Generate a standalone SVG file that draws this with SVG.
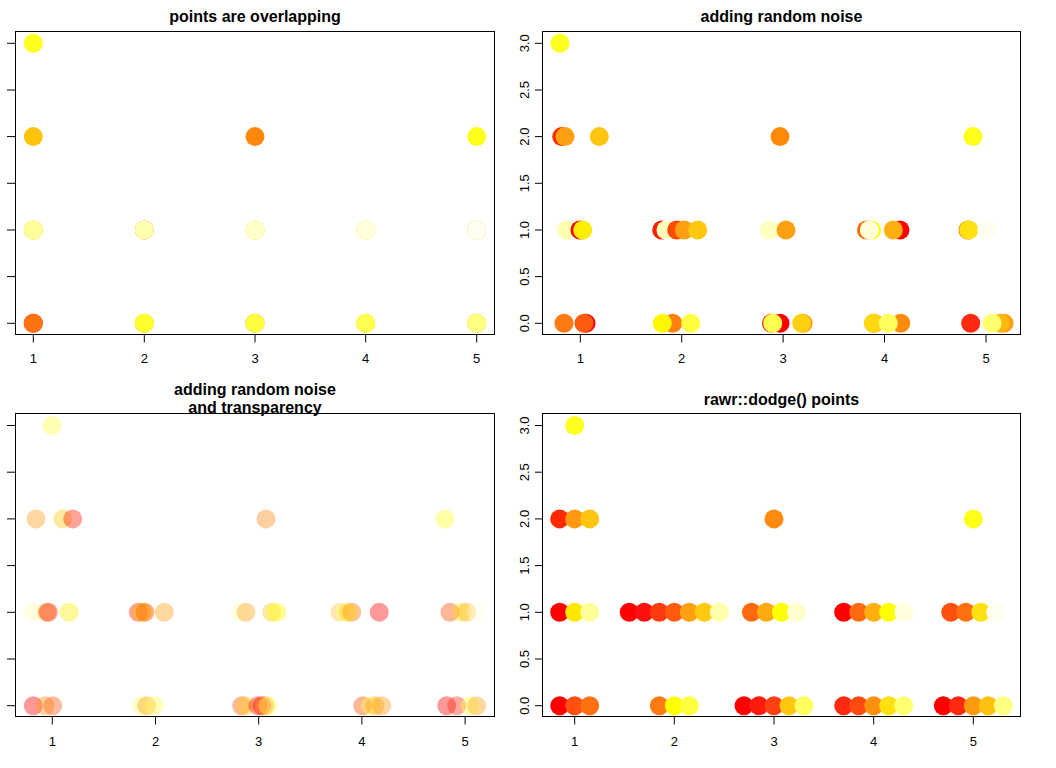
<svg xmlns="http://www.w3.org/2000/svg" width="1056" height="768" viewBox="0 0 1056 768">
<style>
.title{font-family:"Liberation Sans",Arial,sans-serif;font-weight:bold;font-size:16px;text-anchor:middle;fill:#000}
.tl{font-family:"Liberation Sans",Arial,sans-serif;font-size:13px;text-anchor:middle;fill:#000}
.box{fill:none;stroke:#000;stroke-width:1}
.tick{fill:none;stroke:#000;stroke-width:1}
.t{fill-opacity:0.4}
</style>
<rect width="1056" height="768" fill="#fff"/>

<!-- Panel 1 -->
<g id="panel1">
<text class="title" x="255" y="22">points are overlapping</text>
<rect class="box" x="15.5" y="31.5" width="479" height="303"/>
<path class="tick" d="M7,323.3H16M7,276.6H16M7,230H16M7,183.3H16M7,136.6H16M7,90H16M7,43.3H16M33.3,334.5V342.5M144.3,334.5V342.5M255,334.5V342.5M365.7,334.5V342.5M476.7,334.5V342.5"/>
<text class="tl" x="33.3" y="363">1</text><text class="tl" x="144.3" y="363">2</text><text class="tl" x="255" y="363">3</text><text class="tl" x="365.7" y="363">4</text><text class="tl" x="476.7" y="363">5</text>
<g id="p1pts">
<circle cx="33.3" cy="43.3" r="9.5" fill="#FFFF20"/>
<circle cx="33.3" cy="136.6" r="9.5" fill="#FFC40A"/>
<circle cx="255" cy="136.6" r="9.5" fill="#FF880A"/>
<circle cx="476.7" cy="136.6" r="9.5" fill="#FFFF1A"/>
<circle cx="33.3" cy="230" r="9.5" fill="#FFA000"/><circle cx="33.3" cy="230" r="9.5" fill="#FFFF99"/>
<circle cx="144.3" cy="230" r="9.5" fill="#FF6000"/><circle cx="144.3" cy="230" r="9.5" fill="#FFFFB0"/>
<circle cx="255" cy="230" r="9.5" fill="#FFC000"/><circle cx="255" cy="230" r="9.5" fill="#FFFFC8"/>
<circle cx="365.7" cy="230" r="9.5" fill="#FFD000"/><circle cx="365.7" cy="230" r="9.5" fill="#FFFFDC"/>
<circle cx="476.7" cy="230" r="9.5" fill="#FFB000"/><circle cx="476.7" cy="230" r="9.5" fill="#FFFFF2"/>
<circle cx="33.3" cy="323.3" r="9.5" fill="#FF2000"/><circle cx="33.3" cy="323.3" r="9.5" fill="#FF7410"/>
<circle cx="144.3" cy="323.3" r="9.5" fill="#FFA000"/><circle cx="144.3" cy="323.3" r="9.5" fill="#FFFF30"/>
<circle cx="255" cy="323.3" r="9.5" fill="#FF8000"/><circle cx="255" cy="323.3" r="9.5" fill="#FFFF40"/>
<circle cx="365.7" cy="323.3" r="9.5" fill="#FFC000"/><circle cx="365.7" cy="323.3" r="9.5" fill="#FFFF50"/>
<circle cx="476.7" cy="323.3" r="9.5" fill="#FF9000"/><circle cx="476.7" cy="323.3" r="9.5" fill="#FFFF80"/>
</g>
</g>

<!-- Panel 2 -->
<g id="panel2">
<text class="title" x="781.5" y="22">adding random noise</text>
<rect class="box" x="542.5" y="31.5" width="478" height="303"/>
<path class="tick" d="M535,323.3H542.5M535,276.6H542.5M535,230H542.5M535,183.3H542.5M535,136.6H542.5M535,90H542.5M535,43.3H542.5M580.3,334.5V342.5M681.7,334.5V342.5M783.1,334.5V342.5M884.5,334.5V342.5M986,334.5V342.5"/>
<text class="tl" x="580.3" y="363">1</text><text class="tl" x="681.7" y="363">2</text><text class="tl" x="783.1" y="363">3</text><text class="tl" x="884.5" y="363">4</text><text class="tl" x="986" y="363">5</text>
<text class="tl" transform="translate(529,323.3) rotate(-90)">0.0</text>
<text class="tl" transform="translate(529,276.6) rotate(-90)">0.5</text>
<text class="tl" transform="translate(529,230) rotate(-90)">1.0</text>
<text class="tl" transform="translate(529,183.3) rotate(-90)">1.5</text>
<text class="tl" transform="translate(529,136.6) rotate(-90)">2.0</text>
<text class="tl" transform="translate(529,90) rotate(-90)">2.5</text>
<text class="tl" transform="translate(529,43.3) rotate(-90)">3.0</text>
<g id="p2pts">
<circle cx="560" cy="43.3" r="9.5" fill="#FFFF20"/>
<circle cx="561.7" cy="136.6" r="9.5" fill="#FF2A00"/><circle cx="565" cy="136.6" r="9.5" fill="#FFA010"/>
<circle cx="599.3" cy="136.6" r="9.5" fill="#FFC510"/>
<circle cx="780" cy="136.6" r="9.5" fill="#FF8A0A"/>
<circle cx="973" cy="136.6" r="9.5" fill="#FFFF1A"/>
<circle cx="566.7" cy="230" r="9.5" fill="#FFFFB0"/>
<circle cx="580" cy="230" r="9.5" fill="#FF0000"/><circle cx="582.7" cy="230" r="9.5" fill="#FFEE00"/>
<circle cx="661.7" cy="230" r="9.5" fill="#FF2000"/><circle cx="666" cy="230" r="9.5" fill="#FFFFC0"/>
<circle cx="676.7" cy="230" r="9.5" fill="#FF4A00"/><circle cx="684.3" cy="230" r="9.5" fill="#FFA010"/>
<circle cx="697.7" cy="230" r="9.5" fill="#FFC810"/>
<circle cx="769.3" cy="230" r="9.5" fill="#FFFFC0"/>
<circle cx="786" cy="230" r="9.5" fill="#FFA010"/>
<circle cx="866.5" cy="230" r="9.5" fill="#FF6A00"/><circle cx="871.5" cy="230" r="9.5" fill="#FFFF00"/><circle cx="869.3" cy="230" r="9.5" fill="#FFFFD8"/>
<circle cx="900" cy="230" r="9.5" fill="#FF0000"/><circle cx="893.3" cy="230" r="9.5" fill="#FFB010"/>
<circle cx="968" cy="230" r="9.5" fill="#FF6A00"/><circle cx="968.7" cy="230" r="9.5" fill="#FFE010"/>
<circle cx="986.7" cy="230" r="9.5" fill="#FFFFF0"/>
<circle cx="564" cy="323.3" r="9.5" fill="#FF7A10"/>
<circle cx="586" cy="323.3" r="9.5" fill="#FF0000"/><circle cx="584" cy="323.3" r="9.5" fill="#FF5A10"/>
<circle cx="672.7" cy="323.3" r="9.5" fill="#FF8010"/><circle cx="662.3" cy="323.3" r="9.5" fill="#FFF800"/>
<circle cx="690.7" cy="323.3" r="9.5" fill="#FFFF40"/>
<circle cx="780" cy="323.3" r="9.5" fill="#FF0000"/><circle cx="771.5" cy="323.3" r="9.5" fill="#FF2000"/><circle cx="772.7" cy="323.3" r="9.5" fill="#FFFF50"/>
<circle cx="803" cy="323.3" r="9.5" fill="#FF9000"/><circle cx="801.7" cy="323.3" r="9.5" fill="#FFD010"/>
<circle cx="900.7" cy="323.3" r="9.5" fill="#FF8A10"/>
<circle cx="874" cy="323.3" r="9.5" fill="#FF8000"/><circle cx="873.3" cy="323.3" r="9.5" fill="#FFD810"/>
<circle cx="888.3" cy="323.3" r="9.5" fill="#FFFF60"/>
<circle cx="970.7" cy="323.3" r="9.5" fill="#FF2A10"/>
<circle cx="1004" cy="323.3" r="9.5" fill="#FFA010"/><circle cx="1000" cy="323.3" r="9.5" fill="#FFB810"/>
<circle cx="992" cy="323.3" r="9.5" fill="#FFFF70"/>
</g>
</g>

<!-- Panel 3 -->
<g id="panel3">
<text class="title" x="255" y="395">adding random noise</text>
<text class="title" x="255" y="413">and transparency</text>
<rect class="box" x="15.5" y="413.5" width="479" height="303"/>
<path class="tick" d="M7,705.7H16M7,659H16M7,612.3H16M7,565.6H16M7,518.9H16M7,472.2H16M7,425.5H16M52.3,716.5V724.5M155.5,716.5V724.5M258.7,716.5V724.5M361.9,716.5V724.5M465.1,716.5V724.5"/>
<text class="tl" x="52.3" y="746">1</text><text class="tl" x="155.5" y="746">2</text><text class="tl" x="258.7" y="746">3</text><text class="tl" x="361.9" y="746">4</text><text class="tl" x="465.1" y="746">5</text>
<g id="p3pts" class="t">
<circle cx="52" cy="425.5" r="9.5" fill="#FFFF40"/>
<circle cx="36" cy="518.9" r="9.5" fill="#FF9A10"/>
<circle cx="62.7" cy="518.9" r="9.5" fill="#FFC510"/>
<circle cx="72.7" cy="518.9" r="9.5" fill="#FF1A00"/>
<circle cx="266" cy="518.9" r="9.5" fill="#FF8A10"/>
<circle cx="445" cy="518.9" r="9.5" fill="#FFFF20"/>
<circle cx="33.3" cy="612.3" r="9.5" fill="#FFFFB0"/>
<circle cx="46.7" cy="612.3" r="9.5" fill="#FF9A10"/>
<circle cx="48.3" cy="612.3" r="9.5" fill="#FF1A00"/>
<circle cx="69" cy="612.3" r="9.5" fill="#FFEE00"/>
<circle cx="138.3" cy="612.3" r="9.5" fill="#FF2000"/>
<circle cx="141.7" cy="612.3" r="9.5" fill="#FFA010"/>
<circle cx="143.5" cy="612.3" r="9.5" fill="#FFE010"/>
<circle cx="145" cy="612.3" r="9.5" fill="#FF4A00"/>
<circle cx="164.3" cy="612.3" r="9.5" fill="#FFA010"/>
<circle cx="240" cy="612.3" r="9.5" fill="#FFFFC0"/>
<circle cx="246" cy="612.3" r="9.5" fill="#FFA010"/>
<circle cx="271.7" cy="612.3" r="9.5" fill="#FFC810"/>
<circle cx="276.7" cy="612.3" r="9.5" fill="#FFFF00"/>
<circle cx="340" cy="612.3" r="9.5" fill="#FFC040"/>
<circle cx="345" cy="612.3" r="9.5" fill="#FFFF80"/>
<circle cx="351.7" cy="612.3" r="9.5" fill="#FF6A00"/>
<circle cx="348" cy="612.3" r="9.5" fill="#FFD010"/>
<circle cx="379.3" cy="612.3" r="9.5" fill="#FF0000"/>
<circle cx="450" cy="612.3" r="9.5" fill="#FF4A00"/>
<circle cx="461.7" cy="612.3" r="9.5" fill="#FFE010"/>
<circle cx="466.7" cy="612.3" r="9.5" fill="#FFB010"/>
<circle cx="476.7" cy="612.3" r="9.5" fill="#FFFFE0"/>
<circle cx="33.3" cy="705.7" r="9.5" fill="#FF0000"/>
<circle cx="45" cy="705.7" r="9.5" fill="#FF9010"/>
<circle cx="52.7" cy="705.7" r="9.5" fill="#FF5A10"/>
<circle cx="141.7" cy="705.7" r="9.5" fill="#FFFF70"/>
<circle cx="146.7" cy="705.7" r="9.5" fill="#FF9A10"/>
<circle cx="154.3" cy="705.7" r="9.5" fill="#FFFF50"/>
<circle cx="241.7" cy="705.7" r="9.5" fill="#FF4A00"/>
<circle cx="246" cy="705.7" r="9.5" fill="#FFD010"/>
<circle cx="258" cy="705.7" r="9.5" fill="#FF1A00"/>
<circle cx="262" cy="705.7" r="9.5" fill="#FF0000"/>
<circle cx="265" cy="705.7" r="9.5" fill="#FF8A10"/>
<circle cx="268" cy="705.7" r="9.5" fill="#FFFF40"/>
<circle cx="362.7" cy="705.7" r="9.5" fill="#FF4A00"/>
<circle cx="370.7" cy="705.7" r="9.5" fill="#FFFF40"/>
<circle cx="375" cy="705.7" r="9.5" fill="#FFA010"/>
<circle cx="381.7" cy="705.7" r="9.5" fill="#FF9A10"/>
<circle cx="446.7" cy="705.7" r="9.5" fill="#FF0000"/>
<circle cx="456.7" cy="705.7" r="9.5" fill="#FF2A10"/>
<circle cx="470" cy="705.7" r="9.5" fill="#FFFF40"/>
<circle cx="476.7" cy="705.7" r="9.5" fill="#FFA010"/>
</g>
</g>

<!-- Panel 4 -->
<g id="panel4">
<text class="title" x="781.5" y="405">rawr::dodge() points</text>
<rect class="box" x="542.5" y="413.5" width="478" height="303"/>
<path class="tick" d="M535,705.7H542.5M535,659H542.5M535,612.3H542.5M535,565.6H542.5M535,518.9H542.5M535,472.2H542.5M535,425.5H542.5M574.7,716.5V724.5M674.3,716.5V724.5M774,716.5V724.5M873.7,716.5V724.5M973.3,716.5V724.5"/>
<text class="tl" x="574.7" y="746">1</text><text class="tl" x="674.3" y="746">2</text><text class="tl" x="774" y="746">3</text><text class="tl" x="873.7" y="746">4</text><text class="tl" x="973.3" y="746">5</text>
<text class="tl" transform="translate(529,705.7) rotate(-90)">0.0</text>
<text class="tl" transform="translate(529,659) rotate(-90)">0.5</text>
<text class="tl" transform="translate(529,612.3) rotate(-90)">1.0</text>
<text class="tl" transform="translate(529,565.6) rotate(-90)">1.5</text>
<text class="tl" transform="translate(529,518.9) rotate(-90)">2.0</text>
<text class="tl" transform="translate(529,472.2) rotate(-90)">2.5</text>
<text class="tl" transform="translate(529,425.5) rotate(-90)">3.0</text>
<g id="p4pts">
<circle cx="574.7" cy="425.5" r="9.5" fill="#FFFF20"/>
<circle cx="559.7" cy="518.9" r="9.5" fill="#FF2A00"/><circle cx="574.7" cy="518.9" r="9.5" fill="#FF9A10"/><circle cx="589.7" cy="518.9" r="9.5" fill="#FFC510"/>
<circle cx="774" cy="518.9" r="9.5" fill="#FF8A10"/>
<circle cx="973.3" cy="518.9" r="9.5" fill="#FFFF1A"/>
<circle cx="559.7" cy="612.3" r="9.5" fill="#FF0000"/><circle cx="574.7" cy="612.3" r="9.5" fill="#FFE800"/><circle cx="589.7" cy="612.3" r="9.5" fill="#FFFF9A"/>
<circle cx="629.3" cy="612.3" r="9.5" fill="#FF0000"/><circle cx="644.3" cy="612.3" r="9.5" fill="#FF1010"/><circle cx="659.3" cy="612.3" r="9.5" fill="#FF3A10"/><circle cx="674.3" cy="612.3" r="9.5" fill="#FF5A10"/><circle cx="689.3" cy="612.3" r="9.5" fill="#FFA010"/><circle cx="704.3" cy="612.3" r="9.5" fill="#FFCA10"/><circle cx="719.3" cy="612.3" r="9.5" fill="#FFFFAA"/>
<circle cx="751.5" cy="612.3" r="9.5" fill="#FF6A10"/><circle cx="766.5" cy="612.3" r="9.5" fill="#FFAA10"/><circle cx="781.5" cy="612.3" r="9.5" fill="#FFFF00"/><circle cx="796.5" cy="612.3" r="9.5" fill="#FFFFCC"/>
<circle cx="843.7" cy="612.3" r="9.5" fill="#FF0000"/><circle cx="858.7" cy="612.3" r="9.5" fill="#FF6A10"/><circle cx="873.7" cy="612.3" r="9.5" fill="#FFB010"/><circle cx="888.7" cy="612.3" r="9.5" fill="#FFFF00"/><circle cx="903.7" cy="612.3" r="9.5" fill="#FFFFE0"/>
<circle cx="950.8" cy="612.3" r="9.5" fill="#FF5010"/><circle cx="965.8" cy="612.3" r="9.5" fill="#FF7010"/><circle cx="980.8" cy="612.3" r="9.5" fill="#FFE010"/><circle cx="995.8" cy="612.3" r="9.5" fill="#FFFFF0"/>
<circle cx="559.7" cy="705.7" r="9.5" fill="#FF0000"/><circle cx="574.7" cy="705.7" r="9.5" fill="#FF5010"/><circle cx="589.7" cy="705.7" r="9.5" fill="#FF7010"/>
<circle cx="659.3" cy="705.7" r="9.5" fill="#FF7A10"/><circle cx="674.3" cy="705.7" r="9.5" fill="#FFFF00"/><circle cx="689.3" cy="705.7" r="9.5" fill="#FFFF40"/>
<circle cx="744" cy="705.7" r="9.5" fill="#FF0000"/><circle cx="759" cy="705.7" r="9.5" fill="#FF1A10"/><circle cx="774" cy="705.7" r="9.5" fill="#FF4010"/><circle cx="789" cy="705.7" r="9.5" fill="#FFC810"/><circle cx="804" cy="705.7" r="9.5" fill="#FFFF60"/>
<circle cx="843.7" cy="705.7" r="9.5" fill="#FF2A10"/><circle cx="858.7" cy="705.7" r="9.5" fill="#FF4A10"/><circle cx="873.7" cy="705.7" r="9.5" fill="#FF9010"/><circle cx="888.7" cy="705.7" r="9.5" fill="#FFE010"/><circle cx="903.7" cy="705.7" r="9.5" fill="#FFFF70"/>
<circle cx="943.3" cy="705.7" r="9.5" fill="#FF0000"/><circle cx="958.3" cy="705.7" r="9.5" fill="#FF2A10"/><circle cx="973.3" cy="705.7" r="9.5" fill="#FF9A10"/><circle cx="988.3" cy="705.7" r="9.5" fill="#FFC010"/><circle cx="1003.3" cy="705.7" r="9.5" fill="#FFFF80"/>
</g>
</g>
</svg>
